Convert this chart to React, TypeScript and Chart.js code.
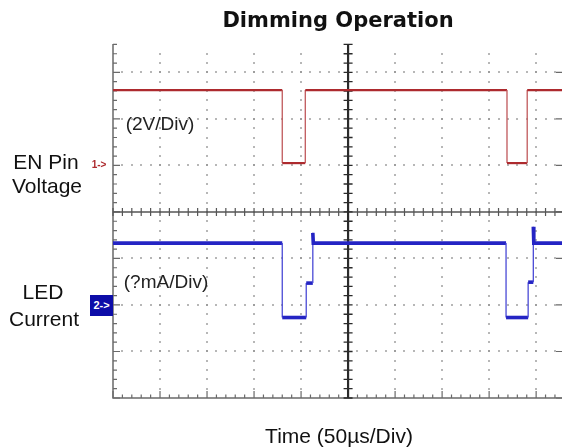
import React, { useEffect, useRef } from "react";
import { Chart, registerables } from "chart.js";

Chart.register(...registerables);

// Time axis in divisions (50 µs/div), 0 = screen centre
const xDivMin = -5;
const xDivMax = 4.55;
// Vertical axis in divisions, 0 = screen centre
const yDivMin = -4;
const yDivMax = 3.61;

// Channel 1: EN pin voltage (2 V/div), times of transitions and levels
const enTime = [-5, -1.4, -1.4, -0.91, -0.91, 3.38, 3.38, 3.81, 3.81, 4.6];
const enLevel = [2.62, 2.62, 1.05, 1.05, 2.62, 2.62, 1.05, 1.05, 2.62, 2.62];

// Channel 2: LED current
const ledTime = [
  -5, -1.4, -1.4, -0.89, -0.89, -0.75, -0.75, -0.74,
  3.36, 3.36, 3.83, 3.83, 3.94, 3.94, 3.95, 4.6,
];
const ledLevel = [
  -0.67, -0.67, -2.27, -2.27, -1.53, -1.53, -0.45, -0.67,
  -0.67, -2.27, -2.27, -1.51, -1.51, -0.32, -0.67, -0.67,
];

const titleText = "Dimming Operation";
const xAxisLabel = "Time (50\u00b5s/Div)";
const ch1Label = ["EN Pin", "Voltage"];
const ch2Label = ["LED", "Current"];
const ch1Scale = "(2V/Div)";
const ch2Scale = "(?mA/Div)";
const ch1Marker = "1->";
const ch2Marker = "2->";

const RED = "#ad2a2e";
const BLUE = "#2424c4";

function toPoints(t: number[], v: number[]) {
  return t.map((x, i) => ({ x, y: v[i] }));
}

const graticule = {
  id: "graticule",
  beforeDatasetsDraw(chart: any) {
    const { ctx, chartArea: a, scales } = chart;
    const sx = scales.x;
    const sy = scales.y;
    const px = (v: number) => sx.getPixelForValue(v);
    const py = (v: number) => sy.getPixelForValue(v);
    ctx.save();

    // dotted division lines
    ctx.fillStyle = "#8f8f8f";
    for (let i = -4; i <= 4; i++) {
      if (i === 0) continue;
      const X = Math.round(px(i));
      for (let k = -20; k <= 20; k++) {
        const Y = py(k / 5);
        if (Y < a.top + 1 || Y > a.bottom - 1) continue;
        ctx.fillRect(X - 0.8, Math.round(Y) - 0.8, 1.6, 1.6);
      }
    }
    for (let j = -3; j <= 3; j++) {
      if (j === 0) continue;
      const Y = Math.round(py(j));
      for (let k = -25; k <= 25; k++) {
        const X = px(k / 5);
        if (X < a.left + 1 || X > a.right - 1) continue;
        ctx.fillRect(Math.round(X) - 0.8, Y - 0.8, 1.6, 1.6);
      }
    }

    // outer left & bottom borders
    ctx.strokeStyle = "#6a6a6a";
    ctx.lineWidth = 1.5;
    ctx.beginPath();
    ctx.moveTo(a.left, a.top);
    ctx.lineTo(a.left, a.bottom);
    ctx.lineTo(a.right, a.bottom);
    ctx.stroke();

    ctx.lineWidth = 1.2;
    ctx.beginPath();
    for (let k = -20; k <= 20; k++) {
      const Y = py(k / 5);
      if (Y < a.top || Y > a.bottom) continue;
      const len = k % 5 === 0 ? 7 : 4;
      ctx.moveTo(a.left, Y);
      ctx.lineTo(a.left + len, Y);
      if (k % 5 === 0) {
        ctx.moveTo(a.right, Y);
        ctx.lineTo(a.right - 6, Y);
      }
    }
    for (let k = -25; k <= 25; k++) {
      const X = px(k / 5);
      if (X < a.left || X > a.right) continue;
      const len = k % 5 === 0 ? 7 : 3.5;
      ctx.moveTo(X, a.bottom);
      ctx.lineTo(X, a.bottom - len);
    }
    ctx.stroke();

    // centre cross
    const cx = px(0);
    const cy = py(0);
    ctx.strokeStyle = "#555";
    ctx.lineWidth = 1.6;
    ctx.beginPath();
    ctx.moveTo(a.left, cy);
    ctx.lineTo(a.right, cy);
    ctx.stroke();
    ctx.lineWidth = 1.2;
    ctx.beginPath();
    for (let k = -25; k <= 25; k++) {
      const X = px(k / 5);
      if (X < a.left || X > a.right) continue;
      ctx.moveTo(X, cy - 4);
      ctx.lineTo(X, cy + 4);
    }
    ctx.stroke();

    ctx.strokeStyle = "#2a2a2a";
    ctx.lineWidth = 2.2;
    ctx.beginPath();
    ctx.moveTo(cx, a.top);
    ctx.lineTo(cx, a.bottom);
    ctx.stroke();
    ctx.lineWidth = 1.3;
    ctx.beginPath();
    for (let k = -20; k <= 20; k++) {
      const Y = py(k / 5);
      if (Y < a.top || Y > a.bottom) continue;
      ctx.moveTo(cx - 4.5, Y);
      ctx.lineTo(cx + 4.5, Y);
    }
    ctx.stroke();
    ctx.restore();
  },
};

const vertical = (ctx: any) => ctx.p0.parsed.x === ctx.p1.parsed.x;

export default function App() {
  const ref = useRef<HTMLCanvasElement | null>(null);

  useEffect(() => {
    if (!ref.current) return;
    const chart = new Chart(ref.current, {
      type: "line",
      data: {
        datasets: [
          {
            label: "EN Pin Voltage",
            data: toPoints(enTime, enLevel),
            borderColor: RED,
            borderWidth: 2,
            pointRadius: 0,
            tension: 0,
            segment: {
              borderWidth: (c: any) => (vertical(c) ? 1.3 : 2.2),
              borderColor: (c: any) => (vertical(c) ? "#c0585b" : RED),
            },
          },
          {
            label: "LED Current",
            data: toPoints(ledTime, ledLevel),
            borderColor: BLUE,
            borderWidth: 3,
            pointRadius: 0,
            tension: 0,
            segment: {
              borderWidth: (c: any) => (vertical(c) ? 1.3 : 3.6),
              borderColor: (c: any) => (vertical(c) ? "#4a4ad6" : BLUE),
            },
          },
        ],
      },
      options: {
        responsive: false,
        animation: false,
        layout: { padding: { left: 113, top: 44, right: 0, bottom: 50 } },
        plugins: {
          legend: { display: false },
          tooltip: { enabled: false },
          title: { display: false },
        },
        scales: {
          x: { type: "linear", min: xDivMin, max: xDivMax, display: false },
          y: { type: "linear", min: yDivMin, max: yDivMax, display: false },
        },
      },
      plugins: [graticule],
    } as any);
    return () => chart.destroy();
  }, []);

  const sans = "'Liberation Sans', Arial, sans-serif";
  const label = (text: string, x: number, y: number, size: number, extra: any = {}) => (
    <div
      style={{
        position: "absolute",
        left: x,
        top: y,
        transform: "translate(-50%, -50%)",
        fontFamily: sans,
        fontSize: size,
        lineHeight: 1,
        whiteSpace: "nowrap",
        color: "#111",
        ...extra,
      }}
    >
      {text}
    </div>
  );

  return (
    <div
      style={{
        position: "fixed",
        left: 0,
        top: 0,
        width: 562,
        height: 448,
        background: "#fff",
        overflow: "hidden",
      }}
    >
      <canvas ref={ref} width={562} height={448} style={{ position: "absolute", left: 0, top: 0 }} />
      {label(titleText, 338, 20, 21, {
        fontFamily: "'DejaVu Sans', Verdana, sans-serif",
        fontWeight: "bold",
      })}
      {label(ch1Label[0], 46, 161, 21)}
      {label(ch1Label[1], 47, 185, 21)}
      {label(ch2Label[0], 43, 291, 21)}
      {label(ch2Label[1], 44, 318, 21)}
      {label(ch1Scale, 160, 123, 19, { color: "#222" })}
      {label(ch2Scale, 166, 281, 19, { color: "#222" })}
      {label(xAxisLabel, 339, 435, 21)}
      {label(ch1Marker, 99, 165, 10, { color: RED, fontWeight: "bold" })}
      <div
        style={{
          position: "absolute",
          left: 90,
          top: 295,
          width: 23,
          height: 21,
          background: "#0d0da8",
          color: "#fff",
          fontFamily: sans,
          fontSize: 11,
          fontWeight: "bold",
          lineHeight: "21px",
          textAlign: "center",
        }}
      >
        {ch2Marker}
      </div>
    </div>
  );
}
